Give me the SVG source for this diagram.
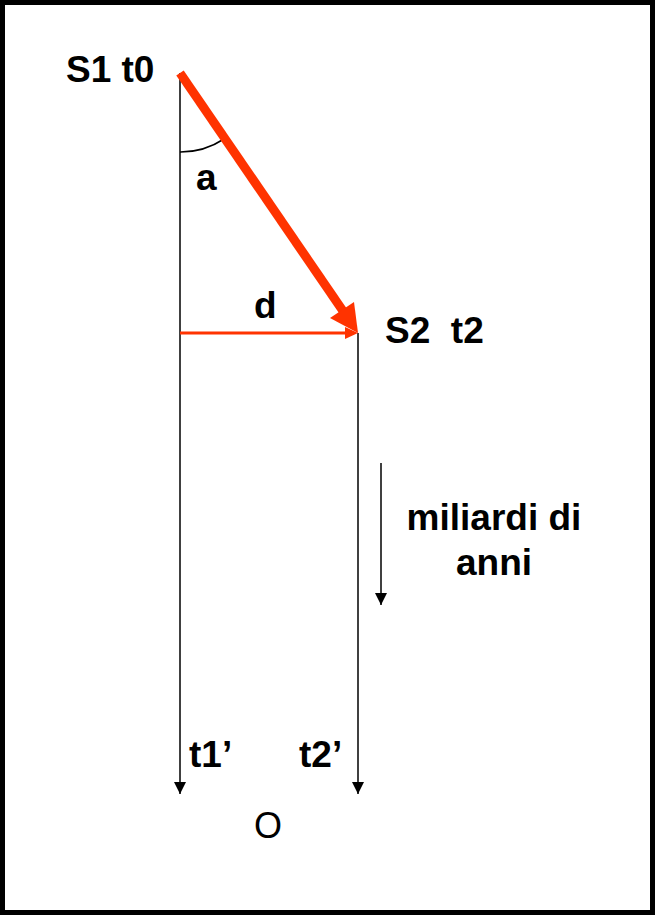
<svg xmlns="http://www.w3.org/2000/svg" width="656" height="915" viewBox="0 0 656 915">
<defs>
<style>
.lbl{font-family:"Liberation Sans",Arial,sans-serif;font-size:37px;font-weight:bold;fill:#000}
.reg{font-family:"Liberation Sans",Arial,sans-serif;font-size:36px;fill:#000}
.ln{stroke:#000;stroke-width:1.5;fill:none}
</style>
<marker id="ah" viewBox="0 0 12 12" refX="12" refY="6" markerWidth="12" markerHeight="12" markerUnits="userSpaceOnUse" orient="auto"><path d="M0,0 L12,6 L0,12 z" fill="#000"/></marker>
</defs>
<rect x="2.5" y="2.5" width="650" height="910" fill="#fff" stroke="#000" stroke-width="5"/>
<g id="connectors">
<line class="ln" x1="180" y1="73" x2="180" y2="794" marker-end="url(#ah)"/>
<line class="ln" x1="358" y1="333" x2="358" y2="794" marker-end="url(#ah)"/>
<line class="ln" x1="381" y1="463" x2="381" y2="605" marker-end="url(#ah)"/>
<path class="ln" d="M180,152 A79,79 0 0 0 224,139"/>
<line x1="180" y1="333" x2="345" y2="333" stroke="#FF3300" stroke-width="3"/>
<path d="M345,327 L358,333 L345,339 z" fill="#FF3300"/>
<line x1="180" y1="73" x2="343" y2="311" stroke="#FF3300" stroke-width="9"/>
<path d="M330,318 L354,302 L358,333 z" fill="#FF3300"/>
</g>
<g id="S1"><text class="lbl" x="66" y="82">S1 t0</text></g>
<g id="a"><text class="lbl" x="196" y="190">a</text></g>
<g id="d"><text class="lbl" x="254" y="318">d</text></g>
<g id="S2"><text class="lbl" x="385" y="343" xml:space="preserve">S2  t2</text></g>
<g id="label-time"><text class="lbl" x="494" y="530" text-anchor="middle">miliardi di</text><text class="lbl" x="494" y="575" text-anchor="middle">anni</text></g>
<g id="t1"><text class="lbl" x="189" y="767">t1’</text></g>
<g id="t2"><text class="lbl" x="299" y="767">t2’</text></g>
<g id="O"><text class="reg" x="254" y="838">O</text></g>
</svg>
